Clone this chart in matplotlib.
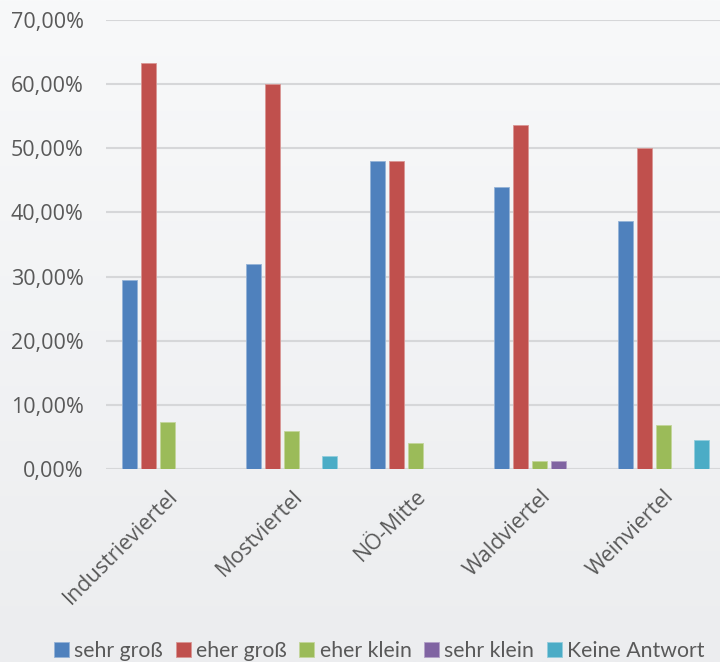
import numpy as np
import matplotlib
matplotlib.use("Agg")
import matplotlib.pyplot as plt
from matplotlib.ticker import FuncFormatter

# data (shares in %)
regions = ["Industrieviertel", "Mostviertel", "NÖ-Mitte", "Waldviertel", "Weinviertel"]
series_names = ["sehr groß", "eher groß", "eher klein", "sehr klein", "Keine Antwort"]
sehr_gross = [29.5, 32.0, 48.0, 44.0, 38.7]
eher_gross = [63.3, 60.0, 48.0, 53.6, 50.0]
eher_klein = [7.3, 6.0, 4.0, 1.2, 6.8]
sehr_klein = [0.0, 0.0, 0.0, 1.3, 0.0]
keine_antwort = [0.0, 2.0, 0.0, 0.0, 4.5]

colors = ["#4f81bd", "#c0504d", "#9bbb59", "#8064a2", "#4bacc6"]
values = [sehr_gross, eher_gross, eher_klein, sehr_klein, keine_antwort]

fig = plt.figure(figsize=(7.2, 6.62), dpi=100)

# soft vertical gradient background like the office chart area
bg = fig.add_axes([0, 0, 1, 1], zorder=-10)
grad = np.linspace(0, 1, 256).reshape(-1, 1)
c_top = np.array(matplotlib.colors.to_rgb("#f8f9fa"))
c_bot = np.array(matplotlib.colors.to_rgb("#ecedef"))
img = c_top + (c_bot - c_top) * grad[:, :, None]
bg.imshow(img, aspect="auto", extent=[0, 1, 0, 1])
bg.axis("off")

ax = fig.add_axes([0.147, 0.2915, 0.861, 0.6783])
ax.set_facecolor("none")

x = np.arange(len(regions))
slot = 0.153
width = 0.122
for i, (name, vals, col) in enumerate(zip(series_names, values, colors)):
    ax.bar(x + (i - 2) * slot, vals, width, color=col, label=name,
           edgecolor=matplotlib.colors.to_hex(0.6 * np.array(matplotlib.colors.to_rgb(col)) + 0.4),
           linewidth=0.6, zorder=3)

ax.set_ylim(0, 70)
ax.set_xlim(-0.5, len(regions) - 0.5)
ax.set_yticks(np.arange(0, 71, 10))
ax.yaxis.set_major_formatter(FuncFormatter(lambda v, p: f"{v:.2f}".replace(".", ",") + "%"))
ax.grid(axis="y", color="#d6d7d9", linewidth=1.5, zorder=0)
for s in ax.spines.values():
    s.set_visible(False)
ax.tick_params(axis="both", length=0, colors="#595959")
ax.tick_params(axis="y", labelsize=15.5, pad=16)

ax.set_xticks(x)
ax.set_xticklabels(regions, rotation=45, ha="right", va="top",
                   rotation_mode="anchor", fontsize=15.5, color="#595959",
                   family="Open Sans")
for lab in ax.get_yticklabels():
    lab.set_family("Open Sans")
ax.tick_params(axis="x", pad=12)

fig.legend(loc="center", bbox_to_anchor=(0.527, 0.0166), ncol=5,
           frameon=False, prop={"family": "Lato", "size": 15.3},
           handlelength=0.7, handleheight=0.7, handletextpad=0.25,
           columnspacing=0.6, labelcolor="#595959")

fig.savefig("out.png", dpi=100, facecolor=fig.get_facecolor())
